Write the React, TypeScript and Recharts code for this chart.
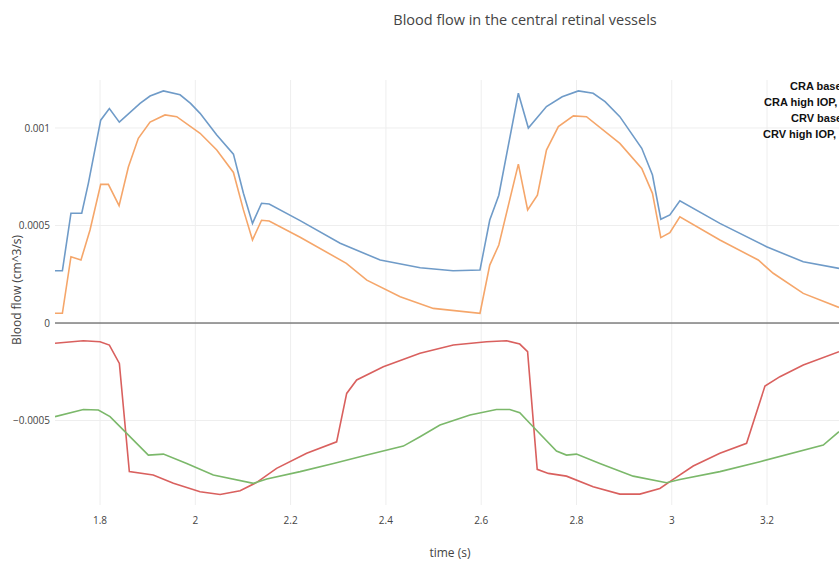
import { LineChart, Line, XAxis, YAxis, CartesianGrid, ReferenceLine } from "recharts";

// CRA baseline (blue)
const craBaseT = [1.7055, 1.721, 1.739, 1.7616, 1.7755, 1.8014, 1.8196, 1.8405, 1.884, 1.905, 1.933, 1.968, 1.99, 2.01, 2.045, 2.08, 2.101, 2.12, 2.139, 2.155, 2.22, 2.304, 2.388, 2.472, 2.541, 2.5975, 2.618, 2.637, 2.678, 2.699, 2.737, 2.77, 2.804, 2.835, 2.86, 2.891, 2.937, 2.9595, 2.977, 2.996, 3.017, 3.101, 3.199, 3.276, 3.351];
const craBaseQ = [0.000268, 0.000268, 0.000563, 0.000563, 0.000716, 0.00104, 0.0011, 0.00103, 0.001126, 0.001164, 0.00119, 0.00117, 0.001126, 0.001075, 0.000964, 0.000866, 0.000665, 0.000511, 0.000614, 0.00061, 0.000525, 0.000409, 0.000323, 0.000283, 0.000268, 0.000272, 0.000528, 0.000655, 0.001178, 0.001, 0.00111, 0.00116, 0.00119, 0.001178, 0.001135, 0.001058, 0.000896, 0.000759, 0.000532, 0.000554, 0.000627, 0.000511, 0.000391, 0.000314, 0.00028];

// CRA high IOP (orange)
const craHighT = [1.7055, 1.721, 1.739, 1.76, 1.779, 1.8014, 1.8175, 1.84, 1.8595, 1.8804, 1.905, 1.9364, 1.961, 2.01, 2.045, 2.08, 2.101, 2.12, 2.139, 2.155, 2.22, 2.317, 2.36, 2.43, 2.4995, 2.5975, 2.618, 2.637, 2.678, 2.6975, 2.718, 2.737, 2.762, 2.7935, 2.821, 2.891, 2.937, 2.9595, 2.977, 2.996, 3.017, 3.101, 3.1815, 3.213, 3.276, 3.351];
const craHighQ = [0.00005, 0.00005, 0.00034, 0.000323, 0.000477, 0.000711, 0.000711, 0.000602, 0.0008, 0.000947, 0.00103, 0.001067, 0.001058, 0.000973, 0.000887, 0.000772, 0.00058, 0.000426, 0.000527, 0.000523, 0.00044, 0.000306, 0.00022, 0.000135, 0.000075, 0.00005, 0.000297, 0.0004, 0.000815, 0.00058, 0.000656, 0.000887, 0.001007, 0.001062, 0.001058, 0.000921, 0.000793, 0.000665, 0.000438, 0.000463, 0.000545, 0.000426, 0.000323, 0.000255, 0.000152, 0.00008];

// CRV baseline (red)
const crvBaseT = [1.7055, 1.765, 1.8, 1.8196, 1.8406, 1.8615, 1.9116, 1.954, 2.01, 2.052, 2.094, 2.129, 2.1706, 2.2337, 2.2966, 2.3177, 2.3387, 2.3946, 2.4716, 2.5415, 2.6115, 2.6535, 2.681, 2.6974, 2.7176, 2.741, 2.779, 2.835, 2.891, 2.933, 2.975, 3.003, 3.045, 3.101, 3.157, 3.1956, 3.227, 3.276, 3.351];
const crvBaseQ = [-0.000104, -0.000091, -0.000096, -0.000113, -0.000207, -0.000762, -0.000779, -0.000822, -0.000865, -0.000879, -0.00086, -0.000817, -0.000745, -0.000668, -0.000609, -0.000361, -0.000292, -0.000224, -0.000155, -0.000113, -0.000096, -0.000091, -0.000108, -0.000147, -0.00075, -0.000771, -0.000785, -0.00084, -0.000877, -0.000877, -0.000848, -0.000802, -0.000733, -0.000668, -0.000617, -0.000323, -0.000275, -0.000215, -0.000147];

// CRV high IOP (green)
const crvHighT = [1.7055, 1.765, 1.7965, 1.821, 1.856, 1.9014, 1.933, 1.982, 2.0378, 2.122, 2.15, 2.22, 2.29, 2.36, 2.4366, 2.4716, 2.5135, 2.5765, 2.632, 2.66, 2.681, 2.709, 2.758, 2.779, 2.8, 2.849, 2.919, 2.989, 3.017, 3.101, 3.185, 3.318, 3.351];
const crvHighQ = [-0.00048, -0.000443, -0.000446, -0.00048, -0.000566, -0.000677, -0.000672, -0.00072, -0.000779, -0.000822, -0.0008, -0.000762, -0.00072, -0.000677, -0.000631, -0.000583, -0.000523, -0.000472, -0.000443, -0.000443, -0.00046, -0.000532, -0.000656, -0.000677, -0.000672, -0.00072, -0.000785, -0.000819, -0.000802, -0.000762, -0.000711, -0.000626, -0.000557];

const xTicks = [1.8, 2, 2.2, 2.4, 2.6, 2.8, 3, 3.2];
const yTicks = [-0.0005, 0, 0.0005, 0.001];
const legendNames = ["CRA baseline", "CRA high IOP,", "CRV baseline", "CRV high IOP,"];

const toRows = (t: number[], q: number[]) => t.map((x, i) => ({ t: x, q: q[i] }));

const series = [
  { name: legendNames[0], data: toRows(craBaseT, craBaseQ), color: "#6f9bc8" },
  { name: legendNames[1], data: toRows(craHighT, craHighQ), color: "#f5a66a" },
  { name: legendNames[2], data: toRows(crvBaseT, crvBaseQ), color: "#d9605e" },
  { name: legendNames[3], data: toRows(crvHighT, crvHighQ), color: "#7bb86a" },
];

const font = "'Open Sans', sans-serif";
const fmtY = (v: number) => (v === 0 ? "0" : v < 0 ? "\u2212" + String(-v) : String(v));

// legend is cut off by the right edge in the original figure
const legendPos = [
  { left: 790, top: 79 },
  { left: 764, top: 95 },
  { left: 791, top: 111 },
  { left: 763, top: 127 },
];

export default function App() {
  return (
    <div style={{ position: "absolute", left: 0, top: 0, width: 839, height: 563, overflow: "hidden", background: "#fff" }}>
      <LineChart width={839} height={563} margin={{ top: 80, right: 0, bottom: 28, left: 0 }}>
        <CartesianGrid stroke="#eee" horizontalValues={yTicks} verticalValues={xTicks} />
        <XAxis
          dataKey="t"
          type="number"
          domain={[1.7055, 3.351]}
          allowDataOverflow
          ticks={xTicks}
          axisLine={false}
          tickLine={false}
          tickSize={0}
          tickMargin={12}
          height={30}
          tick={{ fill: "#444", fontSize: 10, fontFamily: font }}
        />
        <YAxis
          type="number"
          domain={[-0.000933, 0.001246]}
          allowDataOverflow
          ticks={yTicks}
          tickFormatter={fmtY}
          axisLine={false}
          tickLine={false}
          tickSize={0}
          tickMargin={5}
          width={55}
          tick={{ fill: "#444", fontSize: 10, fontFamily: font }}
        />
        <ReferenceLine y={0} stroke="#444" strokeWidth={1} />
        {series.map((s) => (
          <Line
            key={s.name}
            data={s.data}
            dataKey="q"
            name={s.name}
            type="linear"
            stroke={s.color}
            strokeWidth={1.6}
            dot={false}
            activeDot={false}
            isAnimationActive={false}
          />
        ))}
      </LineChart>
      <div style={{ position: "absolute", left: 325, top: 10, width: 400, textAlign: "center", fontFamily: font, fontSize: 14.5, lineHeight: "20px", color: "#444" }}>
        Blood flow in the central retinal vessels
      </div>
      <div style={{ position: "absolute", left: 350, top: 544, width: 200, textAlign: "center", fontFamily: font, fontSize: 12, lineHeight: "18px", color: "#444" }}>
        time (s)
      </div>
      <div style={{ position: "absolute", left: 17 - 100, top: 290 - 9, width: 200, textAlign: "center", fontFamily: font, fontSize: 12, lineHeight: "18px", color: "#444", transform: "rotate(-90deg)" }}>
        Blood flow (cm^3/s)
      </div>
      {legendNames.map((n, i) => (
        <div key={n} style={{ position: "absolute", left: legendPos[i].left, top: legendPos[i].top, whiteSpace: "nowrap", fontFamily: "'Liberation Sans', Arial, sans-serif", fontWeight: "bold", fontSize: 11, lineHeight: "14px", color: "#111" }}>
          {n}
        </div>
      ))}
    </div>
  );
}
